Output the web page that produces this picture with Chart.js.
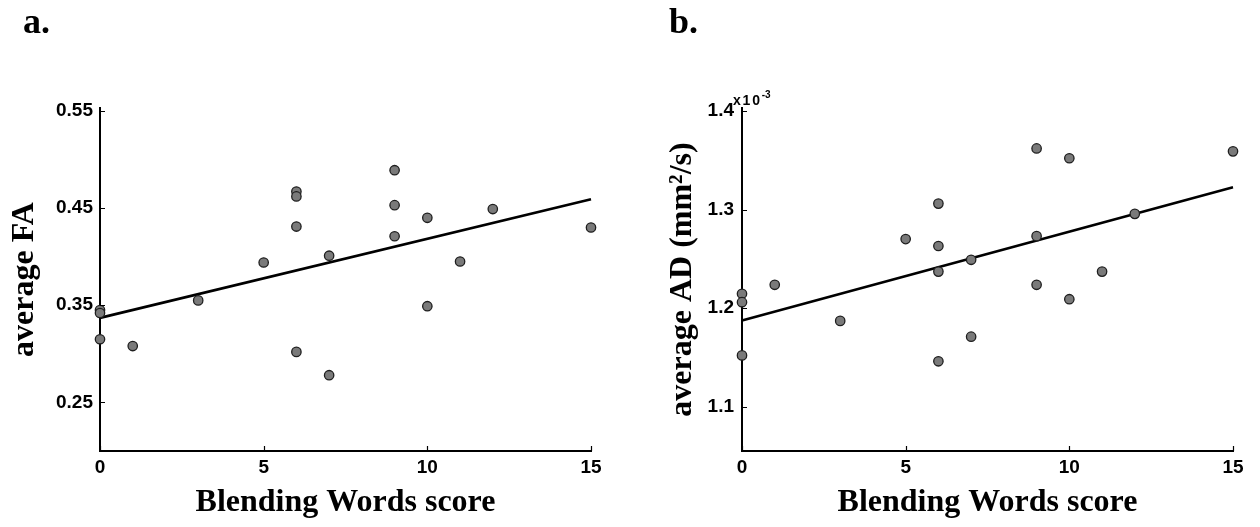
<!DOCTYPE html>
<html>
<head>
<meta charset="utf-8">
<script src="https://cdn.jsdelivr.net/npm/chart.js@4.4.1/dist/chart.umd.min.js"></script>
<style>
  html, body { margin:0; padding:0; background:#fff; }
  body { width:1260px; height:527px; overflow:hidden; position:relative; }
  canvas { position:absolute; top:0; }
  #chartA { left:0; }
  #chartB { left:630px; }
  .panel-label { position:absolute; font-family:"Liberation Serif","Times New Roman",serif; font-weight:bold; font-size:36px; line-height:1; color:#000; }
  .exp { position:absolute; font-family:"Liberation Sans",Arial,sans-serif; font-weight:bold; font-size:14px; line-height:1; letter-spacing:1.8px; color:#000; }
  .exp sup { font-size:10px; letter-spacing:0; position:relative; top:-1px; }
</style>
</head>
<body>
<canvas id="chartA" width="630" height="527"></canvas>
<canvas id="chartB" width="630" height="527"></canvas>
<div class="panel-label" style="left:23px; top:3px;">a.</div>
<div class="panel-label" style="left:669px; top:3px;">b.</div>
<div class="exp" style="left:733px; top:91px;">x10<sup>-3</sup></div>
<script>
// ---- data ----
const scoresA  = [0, 0, 0, 1, 3, 5, 6, 6, 6, 6, 7, 7, 9, 9, 9, 10, 10, 11, 12, 15];
const faValues = [0.345, 0.342, 0.315, 0.308, 0.355, 0.394, 0.467, 0.462, 0.431, 0.302,
                  0.401, 0.278, 0.489, 0.453, 0.421, 0.440, 0.349, 0.395, 0.449, 0.430];
const scoresB  = [0, 0, 0, 1, 3, 5, 6, 6, 6, 6, 7, 7, 9, 9, 9, 10, 10, 11, 12, 15];
const adValues = [1.2145, 1.206, 1.152, 1.2236, 1.187, 1.270, 1.306, 1.263, 1.237, 1.146,
                  1.249, 1.171, 1.362, 1.273, 1.2236, 1.352, 1.209, 1.237, 1.2956, 1.359];
const fitXA = [0, 15];
const fitFA = [0.337, 0.459];
const fitXB = [0, 15];
const fitAD = [1.1875, 1.3226];
const xTicks  = [0, 5, 10, 15];
const faTicks = [0.25, 0.35, 0.45, 0.55];
const adTicks = [1.1, 1.2, 1.3, 1.4];

const inwardTicks = {
  id: 'inwardTicks',
  afterDatasetsDraw(chart) {
    const { ctx, chartArea: a, scales: { x, y } } = chart;
    ctx.save();
    ctx.strokeStyle = '#000';
    ctx.lineWidth = 1.2;
    ctx.beginPath();
    y.ticks.forEach(t => {
      const py = Math.round(y.getPixelForValue(t.value)) + 0.5;
      ctx.moveTo(a.left, py); ctx.lineTo(a.left + 5, py);
    });
    x.ticks.forEach(t => {
      const px = Math.round(x.getPixelForValue(t.value)) + 0.5;
      ctx.moveTo(px, a.bottom); ctx.lineTo(px, a.bottom - 5);
    });
    ctx.stroke();
    ctx.restore();
  }
};

function makeChart(id, xs, ys, fx, fy, yTicks, yMin, yMax, yDigits, yTitle, cfg) {
  const pts = xs.map((v, i) => ({ x: v, y: ys[i] }));
  const fit = fx.map((v, i) => ({ x: v, y: fy[i] }));
  return new Chart(document.getElementById(id), {
    type: 'scatter',
    data: {
      datasets: [
        { data: pts, showLine: false, pointRadius: 4.7, pointBackgroundColor: '#7a7a7a',
          pointBorderColor: '#1e1e1e', pointBorderWidth: 1.3, clip: false, order: 0 },
        { data: fit, showLine: true, pointRadius: 0, borderColor: '#000', borderWidth: 2.6,
          fill: false, clip: false, order: 1 }
      ]
    },
    options: {
      responsive: false,
      animation: false,
      devicePixelRatio: 1,
      layout: { padding: { left: 0, right: cfg.padRight, top: 108, bottom: 0 } },
      plugins: { legend: { display: false }, tooltip: { enabled: false }, title: { display: false } },
      scales: {
        x: {
          type: 'linear', min: 0, max: 15,
          afterBuildTicks: s => { s.ticks = xTicks.map(v => ({ value: v })); },
          afterFit: s => { s.height = 76; },
          grid: { display: false, drawTicks: false },
          border: { display: true, color: '#000', width: 2 },
          ticks: { padding: 5, color: '#000', font: { family: 'Liberation Sans', weight: 'bold', size: 19 },
                   callback: v => String(v) },
          title: { display: true, text: 'Blending Words score', color: '#000',
                   font: { family: 'Liberation Serif', weight: 'bold', size: 32 },
                   padding: { top: 0, bottom: 5 } }
        },
        y: {
          type: 'linear', min: yMin, max: yMax,
          afterBuildTicks: s => { s.ticks = yTicks.map(v => ({ value: v })); },
          afterFit: s => { s.width = cfg.yWidth; },
          grid: { display: false, drawTicks: false },
          border: { display: true, color: '#000', width: 2 },
          ticks: { padding: cfg.tickPad, color: '#000', font: { family: 'Liberation Sans', weight: 'bold', size: 19 },
                   callback: v => Number(v).toFixed(yDigits) },
          title: { display: true, text: yTitle, color: '#000',
                   font: { family: 'Liberation Serif', weight: 'bold', size: 32 },
                   padding: { top: cfg.titlePad, bottom: 0 } }
        }
      }
    },
    plugins: [inwardTicks]
  });
}

makeChart('chartA', scoresA, faValues, fitXA, fitFA, faTicks, 0.2, 0.553, 2, 'average FA',
          { padRight: 39, yWidth: 100, tickPad: 7, titlePad: 6 });
makeChart('chartB', scoresB, adValues, fitXB, fitAD, adTicks, 1.055, 1.403, 1, 'average AD (mm\u00B2/s)',
          { padRight: 27, yWidth: 112, tickPad: 8, titlePad: 34 });
</script>
</body>
</html>
